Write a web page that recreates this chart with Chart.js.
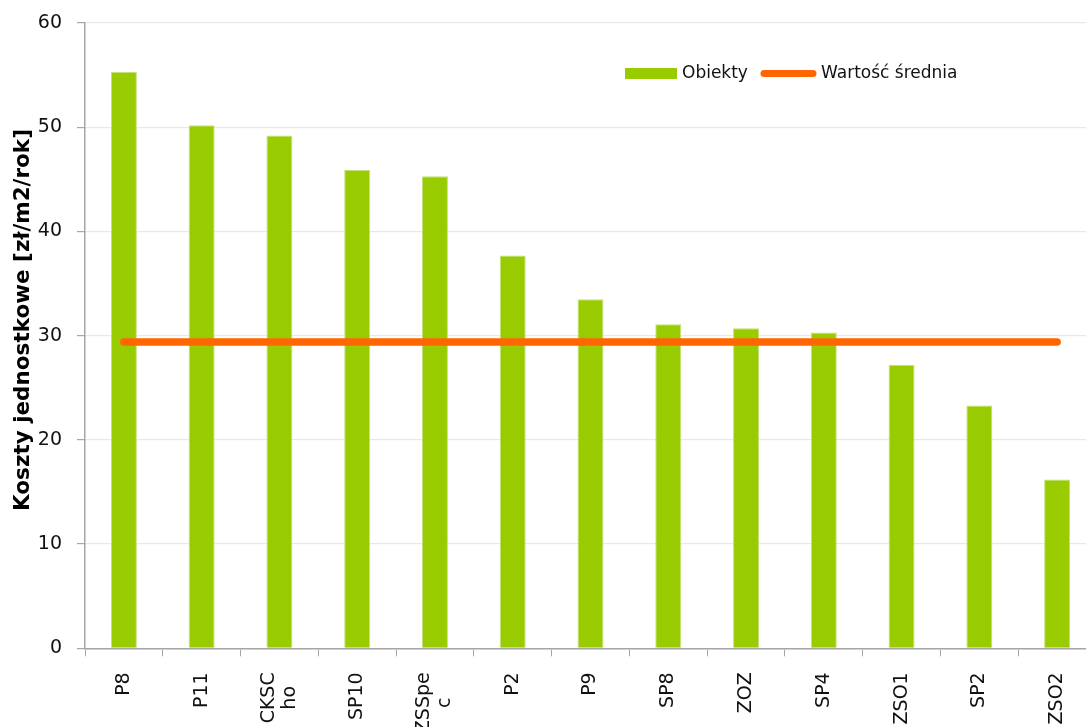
<!DOCTYPE html>
<html lang="pl">
<head>
<meta charset="utf-8">
<title>Koszty jednostkowe</title>
<script src="https://cdn.jsdelivr.net/npm/chart.js@4/dist/chart.umd.min.js"></script>
<style>
  html, body { margin: 0; padding: 0; background: #ffffff; overflow: hidden; }
  #wrap { position: relative; width: 1100px; height: 727px; }
</style>
</head>
<body>
<div id="wrap"><canvas id="chart"></canvas></div>
<script>
// Obiekty (two-line names are split where the label wraps)
const categories = [
  'P8', 'P11', ['CKSC', 'ho'], 'SP10', ['ZSSpe', 'c'], 'P2', 'P9',
  'SP8', 'ZOZ', 'SP4', 'ZSO1', 'SP2', 'ZSO2'
];

// Koszty jednostkowe [zł/m2/rok] per obiekt
const unitCosts = [55.3, 50.2, 49.2, 45.9, 45.3, 37.7, 33.5, 31.1, 30.7, 30.3, 27.2, 23.3, 16.2];

// Wartość średnia, drawn across all objects
const averageCost = [29.4, 29.4, 29.4, 29.4, 29.4, 29.4, 29.4, 29.4, 29.4, 29.4, 29.4, 29.4, 29.4];

// Y axis range and step
const yMin = 0;
const yMax = 60;
const yStep = 10;

const seriesNames = ['Obiekty', 'Wartość średnia'];
const axisTitle = 'Koszty jednostkowe [zł/m2/rok]';

const FONT = "'DejaVu Sans', Verdana, sans-serif";
const GREEN = '#99cc00';
const ORANGE = '#ff6600';
const AXIS = '#a6a6a6';
const GRID = '#e9e9e2';
const TEXT = '#111111';

// Legend drawn inside the plot, upper right
const insideLegend = {
  id: 'insideLegend',
  afterDatasetsDraw(chart) {
    const ctx = chart.ctx;
    const bar = chart.data.datasets.find(d => d.type === 'bar');
    const line = chart.data.datasets.find(d => d.type === 'line');
    ctx.save();
    ctx.font = '17px ' + FONT;
    ctx.textBaseline = 'middle';

    const y = 73.5;
    ctx.fillStyle = bar.backgroundColor;
    ctx.fillRect(625, 68, 52, 11);
    ctx.fillStyle = TEXT;
    ctx.fillText(bar.label, 682, y);

    ctx.strokeStyle = line.borderColor;
    ctx.lineWidth = 7;
    ctx.lineCap = 'round';
    ctx.beginPath();
    ctx.moveTo(764, y);
    ctx.lineTo(813, y);
    ctx.stroke();
    ctx.fillText(line.label, 821, y);
    ctx.restore();
  }
};

// Vertical category labels: the text block hangs from the axis,
// wrapped lines are centred inside the block
const verticalLabels = {
  id: 'verticalLabels',
  afterDraw(chart) {
    const ctx = chart.ctx;
    const xs = chart.scales.x;
    const top = xs.top + 24;
    const lineGap = 21;
    ctx.save();
    ctx.font = '19px ' + FONT;
    ctx.fillStyle = TEXT;
    ctx.textAlign = 'center';
    ctx.textBaseline = 'middle';
    chart.data.labels.forEach((lab, i) => {
      const lines = Array.isArray(lab) ? lab : [lab];
      const x = xs.getPixelForTick(i);
      const blockLen = Math.max(...lines.map(l => ctx.measureText(l).width));
      ctx.save();
      ctx.translate(x, top + blockLen / 2);
      ctx.rotate(-Math.PI / 2);
      lines.forEach((l, k) => {
        ctx.fillText(l, 0, (k - (lines.length - 1) / 2) * lineGap);
      });
      ctx.restore();
    });

    // Y axis title
    ctx.font = 'bold 21.5px ' + FONT;
    ctx.fillStyle = '#000000';
    ctx.translate(23, 320);
    ctx.rotate(-Math.PI / 2);
    ctx.fillText(axisTitle, 0, 0);
    ctx.restore();
  }
};

new Chart(document.getElementById('chart'), {
  data: {
    labels: categories,
    datasets: [
      {
        type: 'bar',
        label: seriesNames[0],
        data: unitCosts,
        backgroundColor: GREEN,
        borderColor: '#c4e07a',
        borderWidth: 1,
        categoryPercentage: 1,
        barPercentage: 0.334,
        order: 1
      },
      {
        type: 'line',
        label: seriesNames[1],
        data: averageCost,
        borderColor: ORANGE,
        backgroundColor: ORANGE,
        borderWidth: 7.5,
        borderCapStyle: 'round',
        pointRadius: 0,
        pointHoverRadius: 0,
        fill: false,
        order: 0
      }
    ]
  },
  options: {
    responsive: true,
    maintainAspectRatio: false,
    animation: false,
    layout: { padding: { top: 23, right: 4, left: 0, bottom: 0 } },
    plugins: {
      legend: { display: false },
      tooltip: { enabled: false }
    },
    scales: {
      x: {
        type: 'category',
        offset: true,
        grid: {
          offset: true,
          drawOnChartArea: false,
          drawTicks: true,
          tickLength: 8,
          tickColor: AXIS
        },
        border: { color: AXIS, width: 1.5 },
        ticks: { display: false, autoSkip: false },
        afterFit(scale) {
          scale.height = 78.7;
          scale.paddingLeft = 0;
          scale.paddingRight = 0;
        }
      },
      y: {
        min: yMin,
        max: yMax,
        grid: {
          color: GRID,
          lineWidth: 1.2,
          drawTicks: true,
          tickLength: 8,
          tickColor: AXIS
        },
        border: { color: AXIS, width: 1.5 },
        ticks: {
          stepSize: yStep,
          padding: 15,
          color: TEXT,
          font: { family: FONT, size: 19 }
        },
        afterFit(scale) {
          scale.width = 85;
          scale.paddingTop = 0;
          scale.paddingBottom = 0;
        }
      }
    }
  },
  plugins: [insideLegend, verticalLabels]
});
</script>
</body>
</html>
